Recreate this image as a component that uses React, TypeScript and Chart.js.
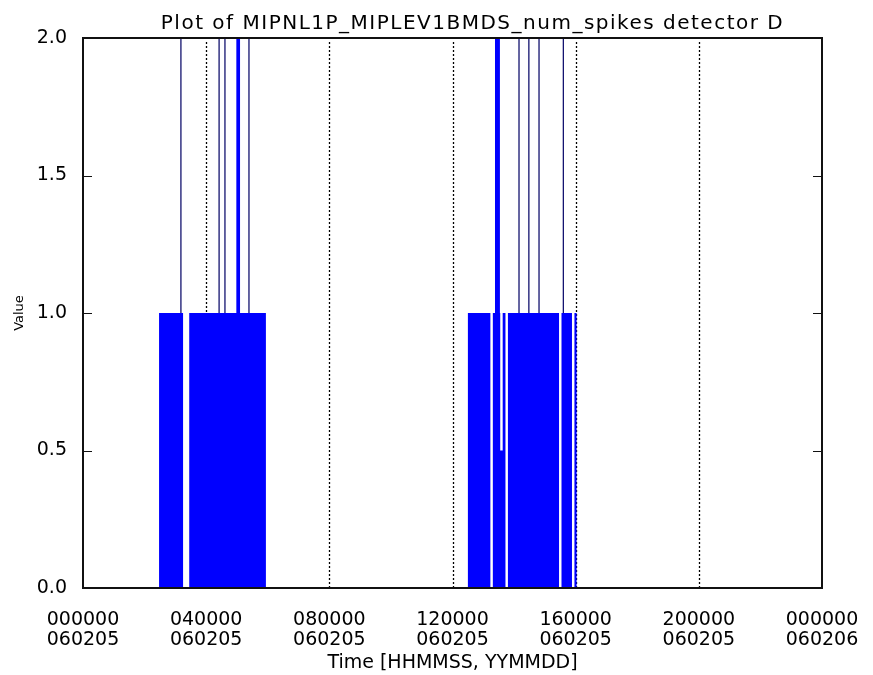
import React, { useEffect, useRef } from 'react';
import { Chart, registerables } from 'chart.js';

Chart.register(...registerables);

// ---- text ----
const chartTitle = 'Plot of MIPNL1P_MIPLEV1BMDS_num_spikes detector D';
const xAxisTitle = 'Time [HHMMSS, YYMMDD]';
const yAxisTitle = 'Value';

// ---- x ticks (hours since 060205 000000) ----
const xTickHours = [0, 4, 8, 12, 16, 20, 24];
const xTickTimes = ['000000', '040000', '080000', '120000', '160000', '200000', '000000'];
const xTickDates = ['060205', '060205', '060205', '060205', '060205', '060205', '060206'];

// ---- y ticks ----
const yMin = 0;
const yMax = 2;
const yStep = 0.5;

// ---- series: num_spikes, described as events in hours ----
const blockStarts = [2.47, 3.45, 12.5];
const blockEnds = [3.25, 5.94, 16.03];
const blockLevel = 1;

const spikeTimes = [3.18, 4.42, 4.61, 5.39, 14.16, 14.48, 14.81, 15.6];
const spikeLevel = 2;

const wideSpikeStarts = [4.98, 13.38];
const wideSpikeEnds = [5.1, 13.54];

const gapStarts = [13.23, 13.72, 15.46, 15.88];
const gapEnds = [13.31, 13.8, 15.54, 15.96];

const dipStarts = [13.55];
const dipEnds = [13.63];
const dipLevels = [0.5];

type P = { x: number; y: number | null };

function buildArea(): P[] {
  const events: { t: number; pts: P[] }[] = [];
  blockStarts.forEach((t) => events.push({ t, pts: [{ x: t, y: 0 }, { x: t, y: blockLevel }] }));
  blockEnds.forEach((t) => events.push({ t, pts: [{ x: t, y: blockLevel }, { x: t, y: 0 }] }));
  wideSpikeStarts.forEach((a, i) => {
    const b = wideSpikeEnds[i];
    events.push({
      t: a,
      pts: [{ x: a, y: blockLevel }, { x: a, y: spikeLevel }, { x: b, y: spikeLevel }, { x: b, y: blockLevel }],
    });
  });
  gapStarts.forEach((a, i) => {
    const b = gapEnds[i];
    events.push({ t: a, pts: [{ x: a, y: blockLevel }, { x: a, y: 0 }, { x: b, y: 0 }, { x: b, y: blockLevel }] });
  });
  dipStarts.forEach((a, i) => {
    const b = dipEnds[i];
    const v = dipLevels[i];
    events.push({ t: a, pts: [{ x: a, y: blockLevel }, { x: a, y: v }, { x: b, y: v }, { x: b, y: blockLevel }] });
  });
  events.sort((p, q) => p.t - q.t);
  return [{ x: xTickHours[0], y: 0 }, ...events.flatMap((e) => e.pts), { x: xTickHours[xTickHours.length - 1], y: 0 }];
}

function buildSpikes(): P[] {
  const pts: P[] = [];
  [...spikeTimes].sort((a, b) => a - b).forEach((t) => {
    pts.push({ x: t, y: blockLevel }, { x: t, y: spikeLevel }, { x: t, y: null });
  });
  return pts;
}

const FONT = 'DejaVu Sans';

const idlPlugin = {
  id: 'idlFrame',
  beforeDatasetsDraw(chart: any) {
    const { ctx, chartArea, scales } = chart;
    const { top, bottom } = chartArea;
    ctx.save();
    ctx.strokeStyle = '#000';
    ctx.lineWidth = 1.3;
    ctx.setLineDash([2, 2]);
    xTickHours.slice(1, -1).forEach((h) => {
      const px = Math.round(scales.x.getPixelForValue(h)) + 0.5;
      ctx.beginPath();
      ctx.moveTo(px, top + 4);
      ctx.lineTo(px, bottom);
      ctx.stroke();
    });
    ctx.restore();
  },
  afterDatasetsDraw(chart: any) {
    const { ctx, chartArea, scales } = chart;
    const { left, right, top, bottom } = chartArea;
    ctx.save();
    ctx.strokeStyle = '#111';
    ctx.lineWidth = 2;
    ctx.strokeRect(Math.round(left), Math.round(top), Math.round(right - left), Math.round(bottom - top));
    ctx.lineWidth = 1;
    const tickLen = 9;
    scales.y.ticks.forEach((t: any) => {
      const py = Math.round(scales.y.getPixelForValue(t.value)) + 0.5;
      ctx.beginPath();
      ctx.moveTo(left, py);
      ctx.lineTo(left + tickLen, py);
      ctx.moveTo(right, py);
      ctx.lineTo(right - tickLen, py);
      ctx.stroke();
    });
    ctx.restore();
  },
  afterDraw(chart: any) {
    const { ctx, chartArea } = chart;
    ctx.save();
    ctx.fillStyle = '#000';
    ctx.font = `20px "${FONT}"`;
    (ctx as any).letterSpacing = '1.5px';
    ctx.textAlign = 'center';
    ctx.textBaseline = 'alphabetic';
    ctx.fillText(chartTitle, (chartArea.left + chartArea.right) / 2 + 20, 29);
    ctx.restore();
  },
};

export default function App() {
  const ref = useRef<HTMLCanvasElement>(null);
  useEffect(() => {
    document.body.style.margin = '0';
    const chart = new Chart(ref.current as HTMLCanvasElement, {
      type: 'line',
      data: {
        datasets: [
          {
            data: buildArea(),
            borderColor: '#0000ff',
            backgroundColor: '#0000ff',
            borderWidth: 0,
            fill: 'origin',
            pointRadius: 0,
            pointHitRadius: 0,
            tension: 0,
          },
          {
            data: buildSpikes(),
            borderColor: '#141470',
            backgroundColor: 'transparent',
            borderWidth: 1.3,
            fill: false,
            spanGaps: false,
            pointRadius: 0,
            pointHitRadius: 0,
            tension: 0,
          },
        ],
      },
      options: {
        animation: false,
        responsive: false,
        devicePixelRatio: 1,
        layout: { padding: { top: 38, right: 51, left: 0, bottom: 0 } },
        plugins: { legend: { display: false }, tooltip: { enabled: false }, title: { display: false } },
        scales: {
          x: {
            type: 'linear',
            min: xTickHours[0],
            max: xTickHours[xTickHours.length - 1],
            afterBuildTicks: (s: any) => {
              s.ticks = xTickHours.map((v) => ({ value: v }));
            },
            afterFit: (s: any) => {
              s.height = 87;
            },
            grid: { display: false },
            border: { display: false },
            ticks: {
              autoSkip: false,
              maxRotation: 0,
              minRotation: 0,
              padding: 14,
              color: '#000',
              font: { family: FONT, size: 19, lineHeight: 1.05 },
              callback: (_v: any, i: number) => [xTickTimes[i], xTickDates[i]],
            },
            title: {
              display: true,
              text: xAxisTitle,
              color: '#000',
              font: { family: FONT, size: 19, lineHeight: 1.2 },
              padding: { top: 0, bottom: 1 },
            },
          },
          y: {
            type: 'linear',
            min: yMin,
            max: yMax,
            afterFit: (s: any) => {
              s.width = 83;
            },
            grid: { display: false },
            border: { display: false },
            ticks: {
              stepSize: yStep,
              padding: 8,
              color: '#000',
              font: { family: FONT, size: 19 },
              callback: (v: any) => Number(v).toFixed(1),
            },
            title: {
              display: true,
              text: yAxisTitle,
              color: '#000',
              font: { family: FONT, size: 13, lineHeight: 1.2 },
              padding: { top: 12, bottom: 0 },
            },
          },
        },
      },
      plugins: [idlPlugin],
    } as any);
    return () => chart.destroy();
  }, []);
  return (
    <div style={{ width: 873, height: 675, background: '#fff' }}>
      <canvas ref={ref} width={873} height={675} style={{ display: 'block' }} />
    </div>
  );
}
